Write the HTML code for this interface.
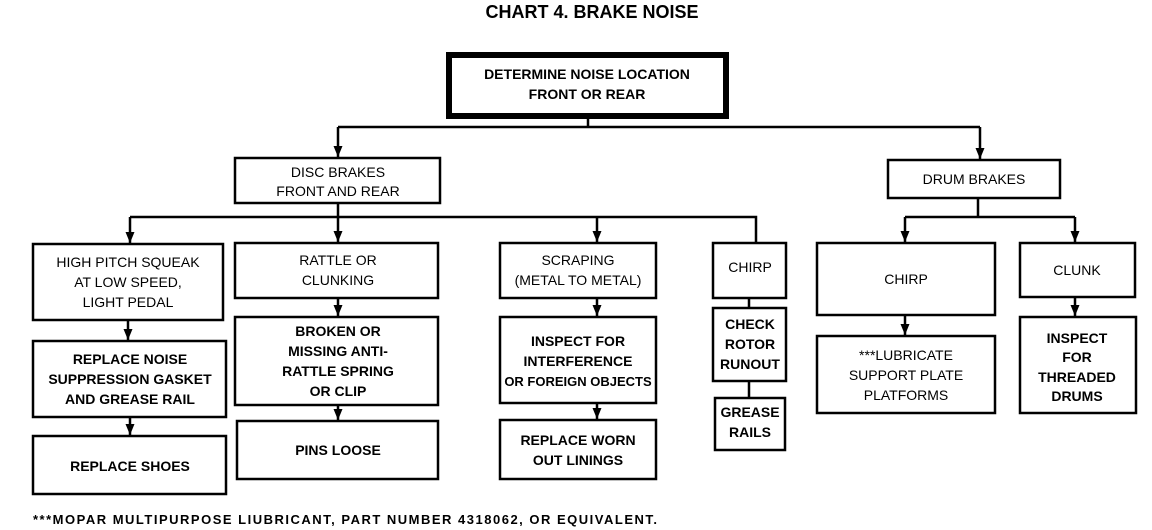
<!DOCTYPE html>
<html><head><meta charset="utf-8"><style>
html,body{margin:0;padding:0;background:#fff;width:1152px;height:530px;overflow:hidden}
svg text{font-family:"Liberation Sans",sans-serif;font-weight:bold;font-size:14px;fill:#000;text-anchor:middle}
</style></head><body>
<svg width="1152" height="530" viewBox="0 0 1152 530" xmlns="http://www.w3.org/2000/svg">
<defs><marker id="a" markerWidth="11" markerHeight="9" refX="11" refY="4.5" orient="auto" markerUnits="userSpaceOnUse"><path d="M0,0 L11,4.5 L0,9 Z" fill="#000"/></marker></defs>
<g fill="none" stroke="#000" stroke-width="2.5">
<rect x="449" y="55" width="277" height="61" stroke-width="6"/>
<path d="M588 118 V127 M338 127 H980"/>
<path d="M338 127 V157" marker-end="url(#a)"/>
<path d="M980 127 V159" marker-end="url(#a)"/>
<rect x="235" y="158" width="205" height="45"/>
<rect x="888" y="160" width="172" height="38"/>
<path d="M338 203 V217 M130 217 H756 V243"/>
<path d="M130 217 V243" marker-end="url(#a)"/>
<path d="M338 217 V242" marker-end="url(#a)"/>
<path d="M597 217 V242" marker-end="url(#a)"/>
<path d="M978 198 V217 M905 217 H1075"/>
<path d="M905 217 V242" marker-end="url(#a)"/>
<path d="M1075 217 V242" marker-end="url(#a)"/>
<rect x="33" y="244" width="190" height="76"/>
<path d="M128 320 V340" marker-end="url(#a)"/>
<rect x="33" y="341" width="193" height="76"/>
<path d="M130 417 V435" marker-end="url(#a)"/>
<rect x="33" y="436" width="193" height="58"/>
<rect x="235" y="243" width="203" height="55"/>
<path d="M338 298 V316" marker-end="url(#a)"/>
<rect x="235" y="317" width="203" height="88"/>
<path d="M338 405 V420" marker-end="url(#a)"/>
<rect x="237" y="421" width="201" height="58"/>
<rect x="500" y="243" width="156" height="55"/>
<path d="M597 298 V316" marker-end="url(#a)"/>
<rect x="500" y="317" width="156" height="86"/>
<path d="M597 403 V419" marker-end="url(#a)"/>
<rect x="500" y="420" width="156" height="59"/>
<rect x="713" y="243" width="73" height="55"/>
<path d="M749 298 V308 M749 381 V398"/>
<rect x="713" y="308" width="73" height="73"/>
<rect x="715" y="398" width="70" height="52"/>
<rect x="817" y="243" width="178" height="72"/>
<path d="M905 315 V335" marker-end="url(#a)"/>
<rect x="817" y="336" width="178" height="77"/>
<rect x="1020" y="243" width="115" height="54"/>
<path d="M1075 297 V316" marker-end="url(#a)"/>
<rect x="1020" y="317" width="116" height="96"/>
</g>
<text x="592" y="18" style="font-size:18px">CHART 4. BRAKE NOISE</text>
<text x="587" y="79">DETERMINE NOISE LOCATION</text>
<text x="587" y="99">FRONT OR REAR</text>
<text x="338" y="177" style="font-weight:normal">DISC BRAKES</text>
<text x="338" y="196" style="font-weight:normal">FRONT AND REAR</text>
<text x="974" y="184" style="font-weight:normal">DRUM BRAKES</text>
<text x="128" y="267" style="font-weight:normal">HIGH PITCH SQUEAK</text>
<text x="128" y="287" style="font-weight:normal">AT LOW SPEED,</text>
<text x="128" y="307" style="font-weight:normal">LIGHT PEDAL</text>
<text x="130" y="364">REPLACE NOISE</text>
<text x="130" y="384">SUPPRESSION GASKET</text>
<text x="130" y="404">AND GREASE RAIL</text>
<text x="130" y="471">REPLACE SHOES</text>
<text x="338" y="265" style="font-weight:normal">RATTLE OR</text>
<text x="338" y="285" style="font-weight:normal">CLUNKING</text>
<text x="338" y="336">BROKEN OR</text>
<text x="338" y="356">MISSING ANTI-</text>
<text x="338" y="376">RATTLE SPRING</text>
<text x="338" y="396">OR CLIP</text>
<text x="338" y="455">PINS LOOSE</text>
<text x="578" y="265" style="font-weight:normal">SCRAPING</text>
<text x="578" y="285" style="font-weight:normal">(METAL TO METAL)</text>
<text x="578" y="346">INSPECT FOR</text>
<text x="578" y="366">INTERFERENCE</text>
<text x="578" y="386" style="font-size:13px">OR FOREIGN OBJECTS</text>
<text x="578" y="445">REPLACE WORN</text>
<text x="578" y="465">OUT LININGS</text>
<text x="750" y="272" style="font-weight:normal">CHIRP</text>
<text x="750" y="329">CHECK</text>
<text x="750" y="349">ROTOR</text>
<text x="750" y="369">RUNOUT</text>
<text x="750" y="417">GREASE</text>
<text x="750" y="437">RAILS</text>
<text x="906" y="284" style="font-weight:normal">CHIRP</text>
<text x="906" y="360" style="font-weight:normal">***LUBRICATE</text>
<text x="906" y="380" style="font-weight:normal">SUPPORT PLATE</text>
<text x="906" y="400" style="font-weight:normal">PLATFORMS</text>
<text x="1077" y="275" style="font-weight:normal">CLUNK</text>
<text x="1077" y="343">INSPECT</text>
<text x="1077" y="362">FOR</text>
<text x="1077" y="382">THREADED</text>
<text x="1077" y="401">DRUMS</text>
<text x="33" y="524" style="text-anchor:start;font-size:13px;letter-spacing:1.5px">***MOPAR MULTIPURPOSE LIUBRICANT, PART NUMBER 4318062, OR  EQUIVALENT.</text>
</svg>
</body></html>
